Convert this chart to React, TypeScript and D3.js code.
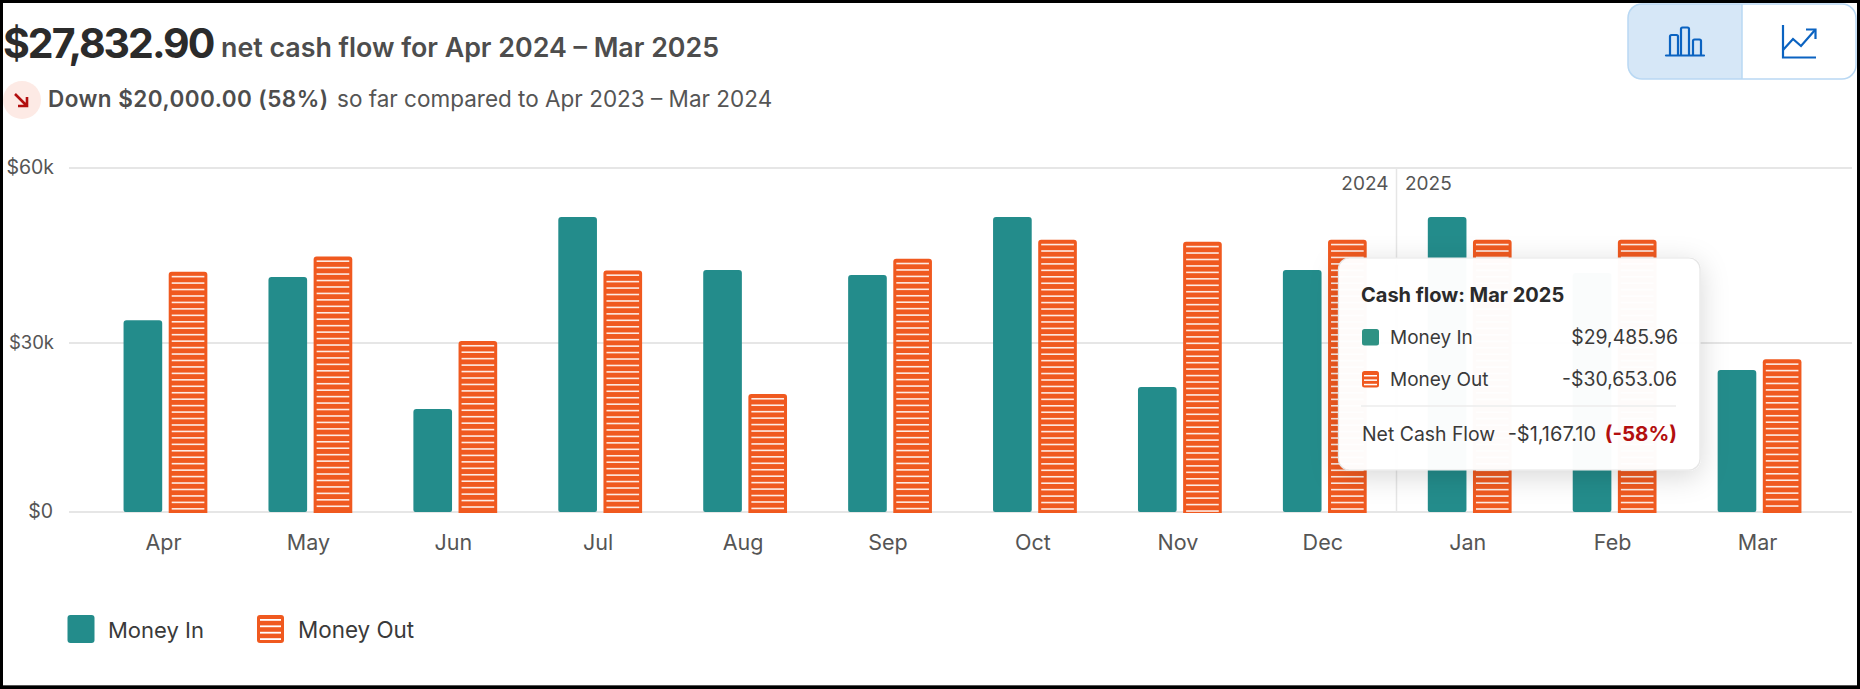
import React from "react";
import * as d3 from "d3";

const months = ["Apr","May","Jun","Jul","Aug","Sep","Oct","Nov","Dec","Jan","Feb","Mar"];
const moneyIn = [33900,41300,18300,51600,42500,41650,51600,22200,42500,51600,42000,25200];
const moneyOut = [42200,44850,30350,42450,20950,44450,47700,47350,47700,47700,47700,27100];
const yTicks = [0,30000,60000];
const yTickLabels = ["$0","$30k","$60k"];
const seriesNames = ["Money In","Money Out"];

const FONT = "Inter, 'Noto Sans', sans-serif";
const TEAL = "#238c8b";
const ORANGE = "#f0591f";
const INK = "#2b2b2b";
const GREY = "#555";

const W = 1860, H = 689;
const x = d3.scaleBand<string>().domain(months).range([93, 1832]);
const inner = d3.scaleBand<string>().domain(seriesNames).range([-41.9, 41.9]).paddingInner(0.144);
const y = d3.scaleLinear().domain(yTicks).range([512, 343, 168]);

function Hatched({ px, top, w, bottom }: { px: number; top: number; w: number; bottom: number }) {
  const stripes = d3.range(top + 4, bottom - 1.5, 6.45);
  return (
    <g>
      <path d={`M${px},${bottom}V${top + 3}Q${px},${top} ${px + 3},${top}H${px + w - 3}Q${px + w},${top} ${px + w},${top + 3}V${bottom}Z`} fill={ORANGE} />
      {stripes.map((s, i) => (
        <rect key={i} x={px + 3} y={s} width={w - 6} height={1.6} fill="#fff" fillOpacity={0.88} />
      ))}
    </g>
  );
}

function TealBar({ px, top, w, bottom }: { px: number; top: number; w: number; bottom: number }) {
  return (
    <path d={`M${px},${bottom}V${top + 3}Q${px},${top} ${px + 3},${top}H${px + w - 3}Q${px + w},${top} ${px + w},${top + 3}V${bottom - 2}Q${px + w},${bottom} ${px + w - 2},${bottom}H${px + 2}Q${px},${bottom} ${px},${bottom - 2}Z`} fill={TEAL} />
  );
}

export default function App() {
  const bw = inner.bandwidth();
  return (
    <svg width={W} height={H} viewBox={`0 0 ${W} ${H}`} style={{ position: "absolute", left: 0, top: 0, background: "#fff", fontFamily: FONT }}>
      <defs>
        <filter id="tipShadow" x="-15%" y="-15%" width="130%" height="140%">
          <feDropShadow dx="0" dy="6" stdDeviation="14" floodColor="#000" floodOpacity="0.16" />
        </filter>
      </defs>

      {/* header */}
      <text x={3} y={58} fontSize={41} fontWeight={700} fill={INK} letterSpacing={-2}>$27,832.90</text>
      <text x={221} y={57} fontSize={26.8} fontWeight={600} fill="#4d4d4d">net cash flow for Apr 2024 – Mar 2025</text>
      <circle cx={22} cy={100} r={19} fill="#fdeae5" />
      <path d="M15,94 L27,106 M27,97 V106 H18" fill="none" stroke="#b30f0f" strokeWidth={2.6} />
      <text x={48} y={107} fontSize={22.5} fontWeight={600} fill="#4d4d4d" letterSpacing={0.45}>Down $20,000.00 (58%)</text>
      <text x={337} y={107} fontSize={22.5} fill="#555">so far compared to Apr 2023 – Mar 2024</text>

      {/* toggle */}
      <path d="M1642,4H1742V79H1642Q1628,79 1628,65V18Q1628,4 1642,4Z" fill="#d6e7f7" />
      <rect x={1628} y={4} width={228} height={75} rx={14} fill="none" stroke="#b9d8f3" strokeWidth={1.5} />
      <line x1={1742} x2={1742} y1={4} y2={79} stroke="#b9d8f3" strokeWidth={1.5} />
      <g fill="none" stroke="#0b63c1" strokeWidth={2.2}>
        <path d="M1666,55.5H1704" strokeLinecap="round" />
        <path d="M1670,55V36.5Q1670,35 1671.5,35H1676.5Q1678,35 1678,36.5V55" />
        <path d="M1681,55V29Q1681,27.5 1682.5,27.5H1687.5Q1689,27.5 1689,29V55" />
        <path d="M1693,55V41Q1693,39.5 1694.5,39.5H1699.5Q1701,39.5 1701,41V55" />
        <path d="M1783,25V57.5H1816" />
        <path d="M1783,50L1793,39L1801,46L1815,30" />
        <path d="M1806,29.5H1815.5V39" />
      </g>

      {/* grid */}
      {yTicks.map((t, i) => (
        <g key={t}>
          <line x1={69} x2={1852} y1={y(t)} y2={y(t)} stroke="#e6e6e6" strokeWidth={2} />
          <text x={i === 0 ? 53 : 54} y={y(t) + 6} textAnchor="end" fontSize={i === 1 ? 18.5 : 19.5} fill={GREY}>{yTickLabels[i]}</text>
        </g>
      ))}

      {/* year divider */}
      <line x1={1396.5} x2={1396.5} y1={168} y2={512} stroke="#e6e6e6" strokeWidth={1.5} />
      <text x={1388.5} y={190} textAnchor="end" fontSize={19} fill={GREY}>2024</text>
      <text x={1405} y={190} fontSize={19} fill={GREY}>2025</text>

      {/* bars */}
      {months.map((m, i) => {
        const cx = x(m)! + x.bandwidth() / 2;
        return (
          <g key={m}>
            <TealBar px={cx + inner(seriesNames[0])!} top={y(moneyIn[i])} w={bw} bottom={y(0)} />
            <Hatched px={cx + inner(seriesNames[1])!} top={y(moneyOut[i])} w={bw} bottom={y(0) + 1} />
            <text x={cx - 2} y={550} textAnchor="middle" fontSize={21.5} fill={GREY}>{m}</text>
          </g>
        );
      })}

      {/* legend */}
      <rect x={67.5} y={615} width={27} height={28} rx={3} fill={TEAL} />
      <text x={108} y={638} fontSize={22} fill="#3a3a3a">{seriesNames[0]}</text>
      <rect x={257} y={615} width={27} height={28} rx={3} fill={ORANGE} />
      {d3.range(619, 642, 6.4).map((s) => (
        <rect key={s} x={260} y={s} width={21} height={1.8} fill="#fff" />
      ))}
      <text x={298} y={638} fontSize={22.4} fill="#3a3a3a">{seriesNames[1]}</text>

      {/* tooltip */}
      <rect x={1338.5} y={258} width={361.5} height={212} rx={11} fill="#fff" fillOpacity={0.975} stroke="#e6e6e6" strokeWidth={1.2} filter="url(#tipShadow)" />
      <text x={1361} y={302} fontSize={20} fontWeight={700} fill={INK}>Cash flow: Mar 2025</text>
      <rect x={1362} y={329} width={17} height={16.5} rx={2.5} fill="#2f9284" />
      <text x={1390} y={344} fontSize={19} fill="#3a3a3a">{seriesNames[0]}</text>
      <text x={1678} y={344} fontSize={19.4} textAnchor="end" fill="#3a3a3a">$29,485.96</text>
      <rect x={1362} y={371} width={17} height={16.5} rx={2.5} fill={ORANGE} />
      {d3.range(375, 386, 4.4).map((s) => (
        <rect key={s} x={1364} y={s} width={13} height={1.5} fill="#fff" />
      ))}
      <text x={1390} y={386} fontSize={19} fill="#3a3a3a">{seriesNames[1]}</text>
      <text x={1677} y={386} fontSize={19.4} textAnchor="end" fill="#3a3a3a">-$30,653.06</text>
      <line x1={1361} x2={1676} y1={406} y2={406} stroke="#ececec" strokeWidth={1.5} />
      <text x={1362} y={441} fontSize={19.4} fill="#3a3a3a">Net Cash Flow</text>
      <text x={1596} y={441} fontSize={20} textAnchor="end" fill="#3a3a3a">-$1,167.10</text>
      <text x={1677} y={441} fontSize={20.5} fontWeight={700} textAnchor="end" fill="#b30f0f">(-58%)</text>

      {/* frame */}
      <rect x={1.5} y={1.5} width={W - 3} height={H - 3} fill="none" stroke="#000" strokeWidth={3} />
      <rect x={3} y={685} width={W - 6} height={1} fill="#555" />
    </svg>
  );
}
